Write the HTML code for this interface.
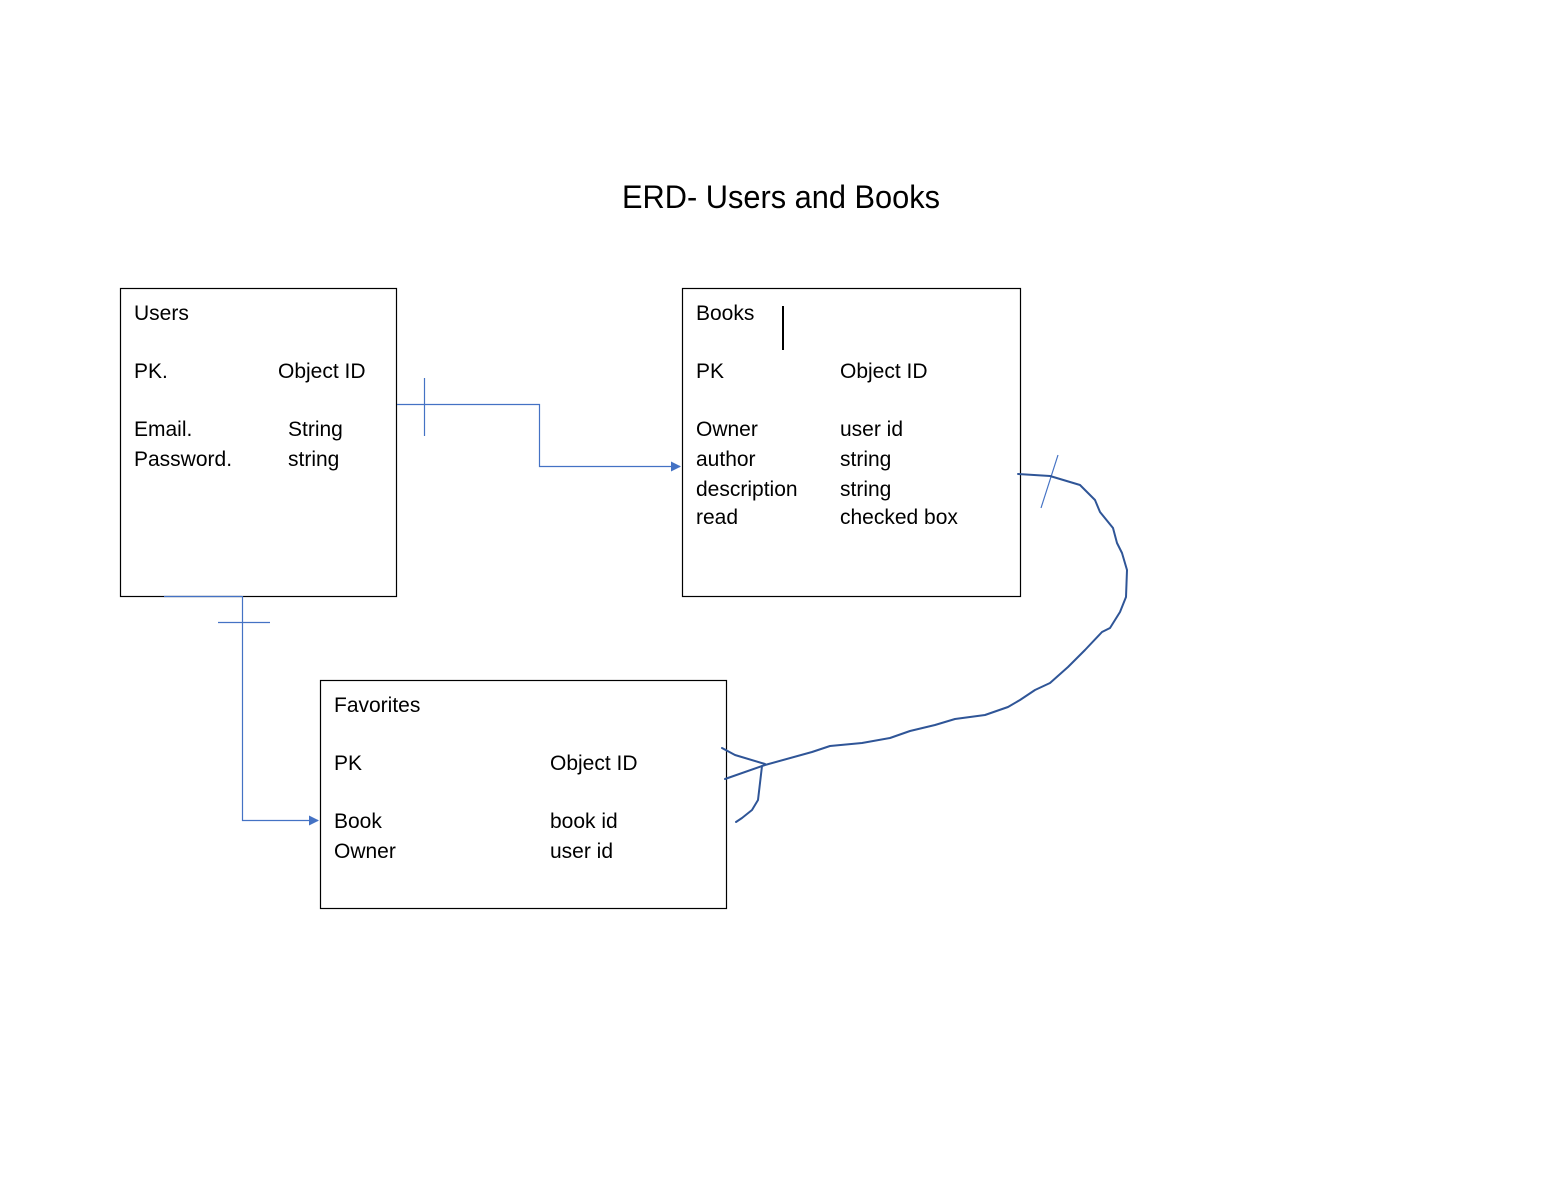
<!DOCTYPE html>
<html><head><meta charset="utf-8"><style>html,body{margin:0;padding:0;background:#fff}svg{display:block}text{font-family:"Liberation Sans",Arial,sans-serif;font-size:21px;fill:#000}</style></head>
<body>
<svg width="1560" height="1200" viewBox="0 0 1560 1200" xmlns="http://www.w3.org/2000/svg">
<defs><marker id="a" markerWidth="10" markerHeight="10" refX="9" refY="5" orient="auto" markerUnits="userSpaceOnUse"><path d="M0,0 L10,5 L0,10 z" fill="#4472c4"/></marker></defs>
<text x="622" y="208" style="font-size:32px" textLength="318" lengthAdjust="spacingAndGlyphs">ERD- Users and Books</text>
<g fill="none" stroke="#000" stroke-width="1.2">
<rect x="120.5" y="288.5" width="276" height="308"/>
<rect x="682.5" y="288.5" width="338" height="308"/>
<rect x="320.5" y="680.5" width="406" height="228"/>
<line x1="783" y1="306" x2="783" y2="350" stroke-width="2"/>
</g>
<text x="134" y="320">Users</text>
<text x="134" y="378">PK.</text><text x="278" y="378">Object ID</text>
<text x="134" y="436">Email.</text><text x="288" y="436">String</text>
<text x="134" y="466">Password.</text><text x="288" y="466">string</text>
<text x="696" y="320">Books</text>
<text x="696" y="378">PK</text><text x="840" y="378">Object ID</text>
<text x="696" y="436">Owner</text><text x="840" y="436">user id</text>
<text x="696" y="466">author</text><text x="840" y="466">string</text>
<text x="696" y="496">description</text><text x="840" y="496">string</text>
<text x="696" y="524">read</text><text x="840" y="524">checked box</text>
<text x="334" y="712">Favorites</text>
<text x="334" y="770">PK</text><text x="550" y="770">Object ID</text>
<text x="334" y="828">Book</text><text x="550" y="828">book id</text>
<text x="334" y="858">Owner</text><text x="550" y="858">user id</text>
<g fill="none" stroke="#4472c4" stroke-width="1.2">
<polyline points="397,404.5 539.5,404.5 539.5,466.5 680,466.5" marker-end="url(#a)"/>
<line x1="424.5" y1="378" x2="424.5" y2="436"/>
<line x1="164" y1="596.5" x2="242" y2="596.5"/>
<polyline points="242.5,596 242.5,820.5 318,820.5" marker-end="url(#a)"/>
<line x1="218" y1="622.5" x2="270" y2="622.5"/>
<line x1="1058" y1="455" x2="1041" y2="508"/>
</g>
<g fill="none" stroke="#2f5597" stroke-width="2" stroke-linejoin="round" stroke-linecap="round">
<polyline points="1018,474 1050,476 1080,485 1095,500 1100,512 1113,528 1117,543 1122,553 1127,570 1126,597 1120,612 1110,628 1102,632 1085,650 1068,667 1050,683 1035,690 1020,700 1008,707 985,715 955,719 935,725 910,731 890,738 862,743 830,746 812,752 765,765 725,779"/>
<polyline points="722,748 735,755 765,764"/>
<polyline points="762,766 758,800 752,810 742,818 736,822"/>
</g>
</svg>
</body></html>
